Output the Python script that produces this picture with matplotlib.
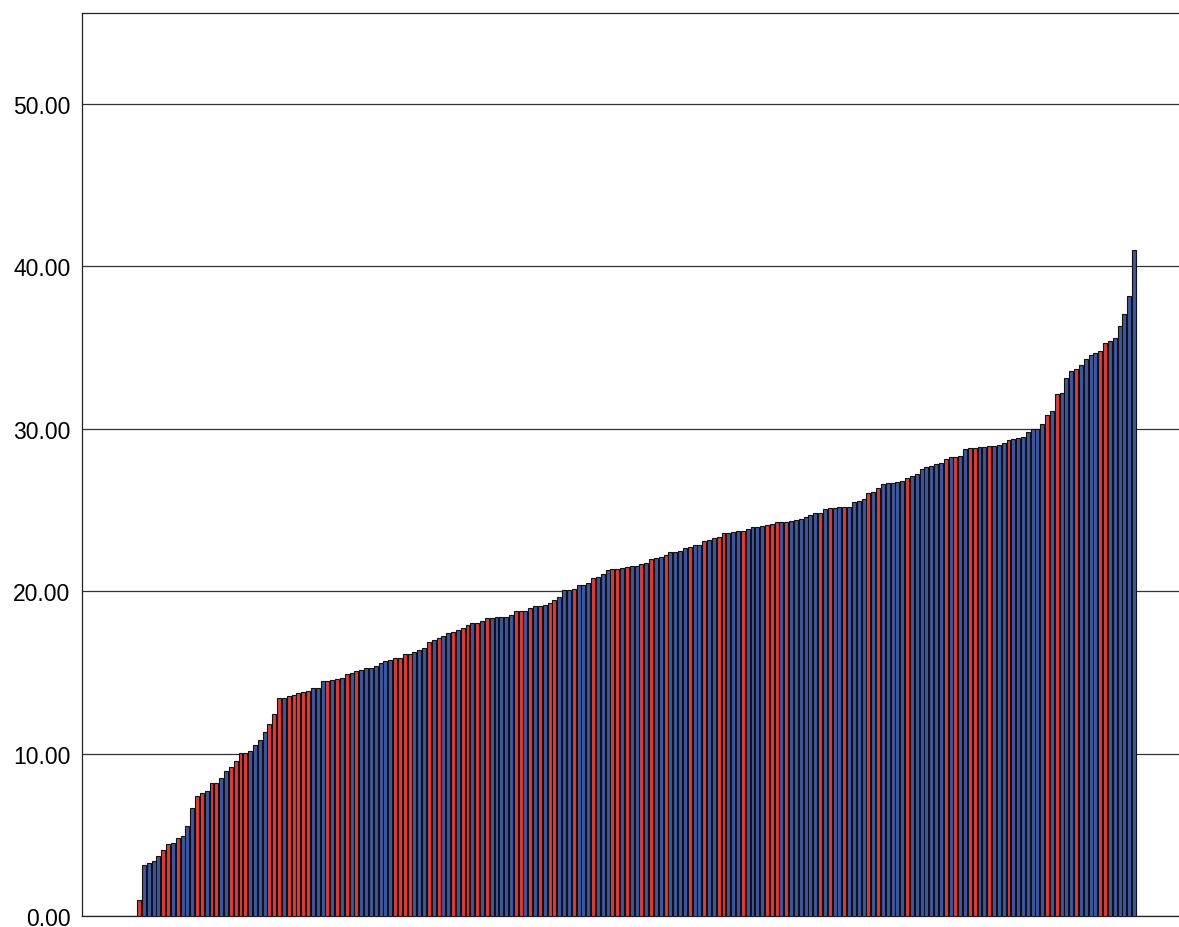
#!/usr/bin/env python3
"""sorted bar chart, red / blue groups"""
import matplotlib
matplotlib.use("Agg")
import matplotlib.pyplot as plt

values = [
    1.0, 3.14, 3.26, 3.4, 3.71, 4.06, 4.41, 4.47, 4.82, 4.94,
    5.56, 6.63, 7.36, 7.57, 7.71, 8.16, 8.2, 8.47, 8.94, 9.19,
    9.54, 10.03, 10.05, 10.17, 10.52, 10.85, 11.3, 11.8, 12.43, 13.41,
    13.45, 13.52, 13.58, 13.7, 13.8, 13.87, 14.01, 14.05, 14.44, 14.48,
    14.5, 14.58, 14.67, 14.89, 14.95, 15.08, 15.16, 15.26, 15.28, 15.4,
    15.57, 15.69, 15.77, 15.86, 15.88, 16.12, 16.16, 16.23, 16.37, 16.53,
    16.88, 17.0, 17.09, 17.25, 17.42, 17.5, 17.58, 17.74, 17.91, 18.03,
    18.07, 18.15, 18.32, 18.34, 18.38, 18.4, 18.4, 18.52, 18.75, 18.77,
    18.79, 18.98, 19.06, 19.1, 19.14, 19.26, 19.43, 19.67, 20.08, 20.1,
    20.12, 20.37, 20.4, 20.53, 20.78, 20.9, 21.03, 21.31, 21.35, 21.37,
    21.4, 21.48, 21.52, 21.54, 21.68, 21.76, 21.97, 22.05, 22.13, 22.22,
    22.42, 22.44, 22.5, 22.65, 22.73, 22.83, 22.85, 23.08, 23.12, 23.28,
    23.36, 23.57, 23.61, 23.63, 23.69, 23.71, 23.82, 23.92, 23.98, 24.02,
    24.1, 24.14, 24.23, 24.27, 24.28, 24.3, 24.39, 24.47, 24.59, 24.68,
    24.8, 24.84, 25.05, 25.11, 25.13, 25.17, 25.18, 25.2, 25.46, 25.58,
    25.66, 26.03, 26.11, 26.38, 26.58, 26.63, 26.69, 26.73, 26.79, 26.94,
    27.1, 27.22, 27.55, 27.63, 27.73, 27.8, 27.9, 28.16, 28.25, 28.29,
    28.31, 28.78, 28.82, 28.84, 28.88, 28.9, 28.92, 28.94, 29.02, 29.11,
    29.31, 29.4, 29.44, 29.48, 29.8, 29.97, 30.01, 30.28, 30.83, 31.08,
    32.12, 32.22, 33.11, 33.54, 33.66, 33.95, 34.28, 34.57, 34.69, 34.77,
    35.3, 35.38, 35.59, 36.33, 37.05, 38.17, 40.98,
]

# R = red group, B = blue group
groups = (
    "RBBBBRRBRB" "BBRRBRRBBR" "RRRBBBBRRR" "BRRRRRBBBR"
    "BRBRBRBBBB" "BBBRRRRBBB" "RBRBBRBRRB" "RBRBBBBBRR"
    "BRBRBRRBBB" "RBBBRBBBRR" "BRBBRBRBBR" "BBBBRBBRBB"
    "RRBBBRBBBB" "RRRBRBBBBB" "BRBRBBRBBB" "BRBRBBBBBR"
    "BBBBBBBRBR" "BBRRBBRBBB" "RBBBBBBBRB" "RBBBRBBBBR"
    "RBBBBBB"
)
colour = {"R": "#e43a33", "B": "#3d57a6"}
yticks = [0, 10, 20, 30, 40, 50]

plt.rcParams["font.family"] = ["Liberation Sans", "DejaVu Sans"]

fig = plt.figure(figsize=(11.79, 9.28), dpi=100)
ax = fig.add_axes([0.0696, 0.0119, 0.9304, 0.973])

x = list(range(len(values)))
ax.bar(x, values, width=0.82, color=[colour[g] for g in groups],
       edgecolor="#111111", linewidth=0.8, zorder=3)

ax.set_xlim(-11.8, 215.3)
ax.set_ylim(0, 55.6)
ax.set_yticks(yticks)
ax.set_yticklabels(["%.2f" % t for t in yticks], fontsize=16.5)
ax.set_xticks([])
ax.tick_params(axis="y", length=0, pad=8.5)
ax.yaxis.grid(True, color="#333333", linewidth=0.9, zorder=0)

for side in ["left", "top", "bottom"]:
    ax.spines[side].set_color("#222222")
    ax.spines[side].set_linewidth(0.9)
ax.spines["right"].set_visible(False)

fig.savefig("out.png", dpi=100)
